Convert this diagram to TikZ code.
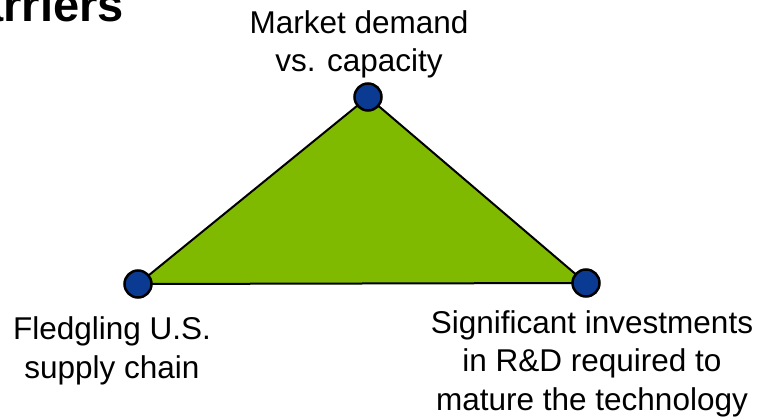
\documentclass[tikz,border=0pt]{standalone}
\usepackage{fontspec}
\setmainfont{Liberation Sans}
\definecolor{trigreen}{RGB}{128,186,0}
\definecolor{dotblue}{RGB}{10,58,145}
\tikzset{
  vertexdot/.style={circle, draw=black, line width=2.5pt, fill=dotblue, minimum size=27pt, inner sep=0pt},
  lbl/.style={align=center, anchor=base, inner sep=0pt, font=\fontsize{31.5}{38.5}\selectfont},
  ttl/.style={anchor=base east, inner sep=0pt, font=\fontsize{47}{50}\selectfont\bfseries}
}
\begin{document}
\begin{tikzpicture}[x=1pt,y=-1pt]
\useasboundingbox (0,0) rectangle (761,417);
\clip (0,0) rectangle (761,417);
\coordinate (T) at (368,97);
\coordinate (L) at (138,284);
\coordinate (R) at (586,283);
\filldraw[fill=trigreen, draw=black, line width=2pt, line join=round] (T) -- (L) -- (R) -- cycle;
\node[vertexdot] (top) at (T) {};
\node[vertexdot] (left) at (L) {};
\node[vertexdot] (right) at (R) {};
\node[ttl] (title) at (124,22) {Barriers};
\node[lbl] (toplbl) at (359,72) {Market demand\\vs. capacity};
\node[lbl] (leftlbl) at (112,378) {Fledgling U.S.\\supply chain};
\node[lbl] (rightlbl) at (592,410) {Significant investments\\in R\&D required to\\mature the technology};
\end{tikzpicture}
\end{document}
